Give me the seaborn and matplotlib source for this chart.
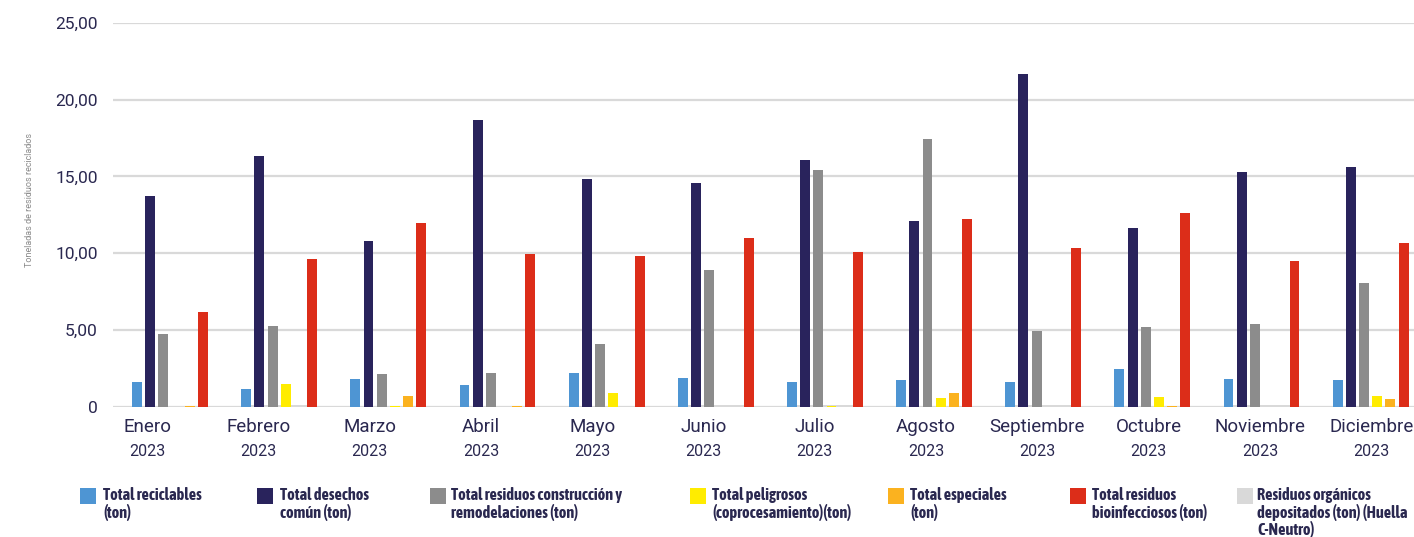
import numpy as np
import pandas as pd
import matplotlib
matplotlib.use("Agg")
import matplotlib.pyplot as plt
from matplotlib.patches import Rectangle
from matplotlib.ticker import FuncFormatter
from matplotlib import font_manager as fm
import seaborn as sns

# ---------------- data ----------------
meses = ['Enero', 'Febrero', 'Marzo', 'Abril', 'Mayo', 'Junio', 'Julio',
         'Agosto', 'Septiembre', 'Octubre', 'Noviembre', 'Diciembre']
anio = '2023'
reciclables = [1.60, 1.14, 1.80, 1.42, 2.18, 1.86, 1.60, 1.74, 1.60, 2.44, 1.80, 1.74]
desechos = [13.70, 16.30, 10.80, 18.70, 14.85, 14.58, 16.10, 12.10, 21.70, 11.64, 15.30, 15.63]
construccion = [4.74, 5.26, 2.13, 2.19, 4.06, 8.87, 15.45, 17.46, 4.94, 5.20, 5.40, 8.07]
peligrosos = [0.0, 1.47, 0.05, 0.0, 0.89, 0.0, 0.05, 0.56, 0.0, 0.62, 0.0, 0.69]
especiales = [0.05, 0.0, 0.69, 0.03, 0.0, 0.0, 0.0, 0.89, 0.0, 0.04, 0.0, 0.50]
bioinfecciosos = [6.17, 9.63, 11.97, 9.95, 9.82, 11.00, 10.10, 12.24, 10.35, 12.62, 9.47, 10.67]
organicos = [0.0, 0.12, 0.0, 0.0, 0.0, 0.08, 0.08, 0.0, 0.08, 0.0, 0.08, 0.0]

series_names = ['Total reciclables\n(ton)',
                'Total desechos\ncomún (ton)',
                'Total residuos construcción y\nremodelaciones (ton)',
                'Total peligrosos\n(coprocesamiento)(ton)',
                'Total especiales\n(ton)',
                'Total residuos\nbioinfecciosos (ton)',
                'Residuos orgánicos\ndepositados (ton) (Huella\nC-Neutro)']
colors = ['#4e95d3', '#29235c', '#8c8c8c', '#ffec00', '#fbb21f', '#dc2d19', '#d9d9d9']
ylabel = 'Toneladas de residuos reciclados'
yticks = [0, 5, 10, 15, 20, 25]

# ---------------- tidy frames ----------------
slots = ['rec', 'des', 'con', 'pel', 'esp', 'bio']
main_vals = [reciclables, desechos, construccion, peligrosos, especiales, bioinfecciosos]
rows = []
for s, vals in zip(slots, main_vals):
    for m, v in zip(meses, vals):
        rows.append({'mes': m, 'slot': s, 'valor': v})
df = pd.DataFrame(rows)
# organic residues share the 5th slot (as in the original chart)
df_org = pd.DataFrame({'mes': meses, 'slot': 'esp', 'valor': organicos})

pal_main = dict(zip(slots, colors[:6]))
pal_org = dict(pal_main)
pal_org['esp'] = colors[6]

# ---------------- fonts ----------------
leg_prop = None
leg_size = 9.7
leg_ls = 1.2
for f in fm.fontManager.ttflist:
    nm = f.name.lower()
    if ('narrow' in nm or 'condensed' in nm) and f.weight in ('bold', 700):
        leg_prop = fm.FontProperties(fname=f.fname)
        leg_size = 11.7
        leg_ls = 1.05
        break
if leg_prop is None:
    leg_prop = fm.FontProperties(family=['Roboto', 'DejaVu Sans'], weight='bold')
leg_prop.set_size(leg_size)

# ---------------- figure ----------------
W, H = 1414, 537
fig = plt.figure(figsize=(W / 100, H / 100), dpi=100)
sns.set_style('white')
plt.rcParams['font.family'] = ['Roboto', 'DejaVu Sans']

x0_px, x1_px, y0_px, y1_px = 113, 1414, 406.6, 23
ax = fig.add_axes([x0_px / W, 1 - y0_px / H, (x1_px - x0_px) / W, (y0_px - y1_px) / H])

common = dict(x='mes', y='valor', hue='slot', order=meses, hue_order=slots,
              width=0.725, gap=0.25, errorbar=None, legend=False,
              saturation=1, ax=ax, linewidth=0)
sns.barplot(data=df_org, palette=pal_org, **common)
sns.barplot(data=df, palette=pal_main, **common)

text_c = '#2a2850'
ax.set_ylim(0, 25)
ax.set_yticks(yticks)
ax.yaxis.set_major_formatter(FuncFormatter(
    lambda v, p: '0' if v == 0 else f'{v:.2f}'.replace('.', ',')))
ax.tick_params(axis='y', length=0, pad=11, labelsize=12.5, labelcolor=text_c)
ax.yaxis.grid(True, color='#d9d9d9', linewidth=1.6)
ax.set_axisbelow(True)
for sp in ax.spines.values():
    sp.set_visible(False)

# category labels
ax.set_xticks([])
ax.set_xlabel('')
ax.set_ylabel('')
unit_px = 109.15
ax.set_xlim((x0_px - 170) / unit_px, (x1_px - 170) / unit_px)
lab_pos = -0.2107 + 1.0197 * np.arange(len(meses))
tr = ax.get_xaxis_transform()
for p, m in zip(lab_pos, meses):
    ax.text(p, -0.052, m, transform=tr, ha='center', va='center',
            fontsize=13.5, color=text_c)
    ax.text(p, -0.118, anio, transform=tr, ha='center', va='center',
            fontsize=11.5, color=text_c)

fig.text(30 / W, 1 - 200 / H, ylabel, rotation=90, ha='center', va='center',
         fontsize=6.5, color='#8a8a8a')

# legend
sq_x = [80, 257, 430, 690, 888, 1070, 1237]
tx_x = [103, 280, 451, 712, 910, 1092, 1257]
for sx, tx, name, c in zip(sq_x, tx_x, series_names, colors):
    fig.add_artist(Rectangle((sx / W, 1 - 504 / H), 16 / W, 16 / H,
                             transform=fig.transFigure, color=c, lw=0))
    fig.text(tx / W, 1 - 487 / H, name, ha='left', va='top',
             fontproperties=leg_prop, color=text_c, linespacing=leg_ls)

fig.savefig('out.png', dpi=100)
